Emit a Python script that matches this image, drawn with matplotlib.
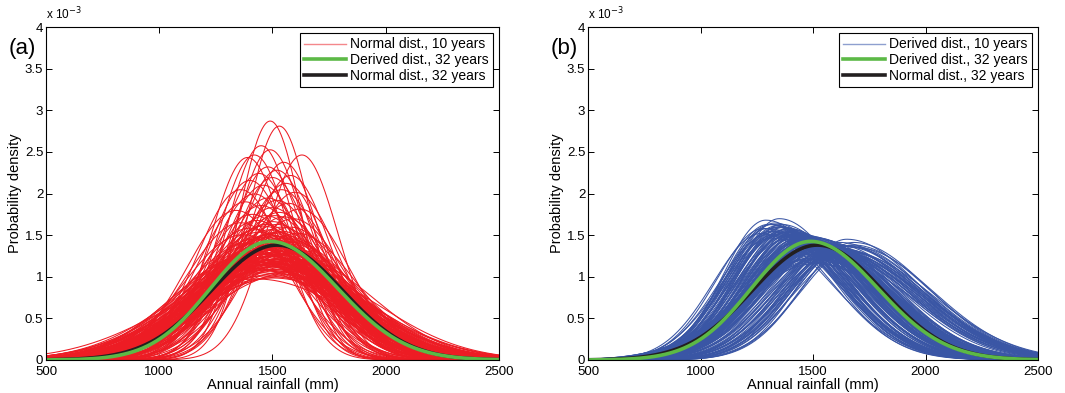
import numpy as np
import matplotlib
matplotlib.use("Agg")
import matplotlib.pyplot as plt
from matplotlib.lines import Line2D

plt.rcParams['font.family'] = ['Liberation Sans', 'DejaVu Sans']

# (a) normal distributions fitted to 10-year windows: mean, std (mm)
a_mean = [1490, 1530, 1450, 1490, 1420, 1630, 1390, 1550, 1480, 1520, 1440, 1580,
          1400, 1500, 1560, 1460, 1360, 1540, 1600, 1420, 1480, 1520, 1380, 1570,
          1450, 1500, 1620, 1340, 1530, 1410, 1470, 1550, 1590, 1430, 1500, 1360,
          1520, 1460, 1580, 1400, 1490, 1540, 1440, 1610, 1370, 1510, 1470, 1560,
          1420, 1530, 1480, 1590, 1390, 1500, 1450, 1550, 1520, 1430, 1600, 1470,
          1540, 1410, 1500, 1570, 1460, 1530, 1380, 1490, 1550, 1440, 1620, 1510,
          1470, 1580, 1420, 1530, 1490, 1560, 1450, 1510, 1400, 1540, 1480, 1570,
          1440, 1520, 1560, 1470, 1540, 1500, 1430, 1480, 1450, 1520, 1560, 1500,
          1510, 1470, 1540, 1430, 1500, 1560, 1480, 1450, 1520, 1490, 1410, 1550,
          1470, 1530, 1500, 1440, 1580, 1460, 1520, 1490, 1390, 1540, 1510, 1470,
          1560, 1430, 1500, 1530, 1480, 1450, 1570, 1510, 1420, 1490, 1550, 1460,
          1600, 1520, 1480, 1440, 1530, 1500, 1560, 1470, 1410, 1540, 1490, 1510,
          1450, 1580, 1380, 1520, 1480, 1550, 1460, 1500, 1430, 1570, 1490, 1530]
a_std = [139, 142, 155, 158, 162, 162, 164, 168, 172, 175, 178, 180,
         185, 182, 188, 190, 195, 195, 198, 200, 205, 208, 210, 212,
         215, 218, 220, 222, 225, 228, 230, 232, 235, 238, 240, 242,
         245, 248, 250, 252, 255, 258, 260, 262, 265, 268, 270, 272,
         275, 278, 280, 282, 285, 288, 290, 292, 295, 298, 300, 302,
         305, 308, 310, 312, 315, 318, 320, 322, 325, 328, 330, 332,
         335, 338, 340, 342, 345, 348, 350, 355, 360, 365, 370, 375,
         380, 385, 390, 395, 400, 405, 410, 300, 310, 290, 280, 320,
         230, 245, 250, 255, 262, 268, 272, 276, 280, 284, 288, 292,
         296, 299, 303, 306, 309, 313, 316, 319, 322, 326, 329, 332,
         336, 339, 343, 346, 349, 352, 356, 358, 362, 366, 368, 372,
         376, 260, 265, 270, 285, 295, 305, 315, 325, 335, 345, 355,
         300, 310, 320, 330, 340, 350, 285, 295, 305, 275, 265, 315]

# (b) derived distributions, 10-year windows: mode, left spread, right spread (mm)
b_mode = [1290, 1350, 1310, 1330, 1360, 1280, 1300, 1340, 1370, 1390, 1320, 1400,
          1350, 1380, 1410, 1300, 1330, 1360, 1420, 1390, 1440, 1270, 1345, 1375,
          1405, 1425, 1315, 1455, 1385, 1435,
          1460, 1480, 1500, 1450, 1470, 1490, 1510, 1520, 1440, 1460, 1480, 1500,
          1530, 1540, 1470, 1490, 1510, 1450, 1520, 1550, 1480, 1500, 1460, 1530,
          1545, 1470, 1495, 1515, 1555, 1485, 1505, 1525, 1465, 1535, 1560,
          1650, 1620, 1600, 1680, 1640, 1580, 1610, 1660, 1570, 1630, 1590, 1690,
          1550, 1615, 1645, 1575, 1600, 1625, 1560, 1665,
          1500, 1510, 1490, 1520, 1505, 1480, 1515, 1495, 1525, 1500, 1485, 1510,
          1300, 1320, 1340, 1360, 1380, 1400, 1420, 1440, 1460, 1480, 1500, 1520,
          1540, 1560, 1580, 1600, 1620, 1640, 1350, 1370, 1395, 1415, 1430, 1445,
          1465, 1475, 1485, 1495, 1505, 1515, 1525, 1535, 1550, 1570, 1590, 1610,
          1630, 1655, 1675, 1330, 1365, 1390, 1410, 1455, 1490, 1510, 1530, 1545,
          1565, 1585, 1605, 1625, 1310, 1355, 1425, 1450, 1475, 1500, 1520, 1540]
b_left = [190, 195, 200, 205, 200, 210, 205, 210, 215, 210, 215, 220,
          220, 225, 220, 220, 225, 230, 225, 230, 230, 215, 235, 228,
          232, 238, 230, 235, 240, 242,
          240, 245, 240, 250, 245, 250, 245, 250, 255, 255, 250, 255,
          250, 255, 260, 260, 258, 262, 262, 255, 265, 265, 268, 265,
          262, 270, 270, 272, 268, 275, 275, 278, 278, 280, 275,
          220, 225, 230, 230, 235, 240, 238, 240, 245, 245, 250, 245,
          250, 252, 250, 255, 258, 260, 262, 255,
          300, 290, 305, 295, 310, 300, 315, 320, 310, 325, 315, 330,
          200, 205, 210, 212, 215, 220, 225, 230, 235, 240, 245, 250,
          252, 255, 250, 245, 240, 235, 215, 220, 222, 228, 232, 236,
          242, 246, 250, 254, 258, 262, 266, 270, 262, 258, 252, 248,
          242, 236, 232, 218, 224, 230, 234, 244, 256, 264, 268, 272,
          270, 266, 260, 254, 212, 226, 238, 252, 262, 290, 300, 310]
b_right = [285, 275, 290, 280, 290, 295, 300, 290, 285, 295, 300, 290,
           300, 295, 300, 310, 305, 300, 300, 305, 295, 310, 300, 310,
           305, 300, 315, 300, 310, 305,
           300, 290, 300, 300, 310, 305, 300, 295, 305, 310, 315, 310,
           300, 305, 305, 310, 315, 300, 310, 300, 310, 305, 315, 310,
           315, 310, 320, 310, 310, 315, 325, 315, 320, 320, 320,
           330, 340, 345, 335, 345, 350, 355, 340, 355, 360, 360, 345,
           365, 365, 355, 370, 372, 375, 375, 365,
           320, 330, 325, 335, 340, 330, 345, 340, 350, 355, 340, 360,
           290, 285, 285, 290, 295, 295, 300, 300, 305, 305, 310, 310,
           315, 320, 340, 350, 355, 350, 285, 290, 295, 300, 300, 305,
           305, 310, 310, 315, 315, 320, 320, 325, 330, 345, 355, 360,
           365, 350, 345, 300, 295, 300, 305, 310, 315, 320, 325, 330,
           340, 350, 360, 365, 305, 300, 305, 310, 320, 330, 340, 345]

# 32-year fits
normal32 = (1520, 289)          # mean, std
derived32 = (1489, 262, 298)    # mode, left spread, right spread

x = np.linspace(500, 2500, 801)


def normal_pdf(x, m, s):
    return np.exp(-0.5 * ((x - m) / s) ** 2) / (s * np.sqrt(2 * np.pi))


def split_pdf(x, m, sl, sr):
    s = np.where(x < m, sl, sr)
    return 2.0 / (np.sqrt(2 * np.pi) * (sl + sr)) * np.exp(-0.5 * ((x - m) / s) ** 2)


red = '#ed1c24'
blue = '#3a56a5'
green = '#5cb946'
black = '#231f20'

fig = plt.figure(figsize=(10.65, 3.93), dpi=100)
ax1 = fig.add_axes([46 / 1065, 33 / 393, 453 / 1065, 333 / 393])
ax2 = fig.add_axes([588 / 1065, 33 / 393, 450 / 1065, 333 / 393])

for m, s in zip(a_mean, a_std):
    ax1.plot(x, normal_pdf(x, m, s) * 1e3, color=red, lw=0.75)
for m, sl, sr in zip(b_mode, b_left, b_right):
    ax2.plot(x, split_pdf(x, m, sl, sr) * 1e3, color=blue, lw=0.75)

first = ['Normal dist., 10 years', 'Derived dist., 10 years']
light = ['#f4878b', '#8e9fcf']
for ax, lab, lc, tag in zip([ax1, ax2], first, light, ['(a)', '(b)']):
    ax.plot(x, normal_pdf(x, *normal32) * 1e3, color=black, lw=2.6)
    ax.plot(x, split_pdf(x, *derived32) * 1e3, color=green, lw=2.6)
    ax.set_xlim(500, 2500)
    ax.set_ylim(0, 4)
    ax.set_xticks([500, 1000, 1500, 2000, 2500])
    ax.set_yticks([0, 0.5, 1, 1.5, 2, 2.5, 3, 3.5, 4])
    ax.set_yticklabels(['0', '0.5', '1', '1.5', '2', '2.5', '3', '3.5', '4'])
    ax.tick_params(direction='in', top=True, right=True, length=4, width=0.7,
                   labelsize=9.5)
    ax.tick_params(axis='x', pad=4)
    ax.tick_params(axis='y', pad=2)
    for sp in ax.spines.values():
        sp.set_linewidth(0.8)
    ax.set_xlabel('Annual rainfall (mm)', fontsize=10.5, labelpad=0)
    ax.set_ylabel('Probability density', fontsize=10.5, labelpad=2)
    ax.text(0.0, 1.015, 'x 10$^{-3}$', transform=ax.transAxes, fontsize=8.5,
            ha='left', va='bottom')
    ax.text(-0.083, 0.935, tag, transform=ax.transAxes, fontsize=16,
            ha='left', va='center')
    handles = [Line2D([], [], color=lc, lw=1.0),
               Line2D([], [], color=green, lw=2.6),
               Line2D([], [], color=black, lw=2.6)]
    leg = ax.legend(handles, [lab, 'Derived dist., 32 years', 'Normal dist., 32 years'],
                    loc='upper right', fontsize=10, fancybox=False, framealpha=1,
                    edgecolor='black', borderpad=0.3, labelspacing=0.12,
                    handlelength=3.0, handletextpad=0.3, borderaxespad=0.45)
    leg.get_frame().set_linewidth(0.8)

fig.savefig('out.png', dpi=100)
